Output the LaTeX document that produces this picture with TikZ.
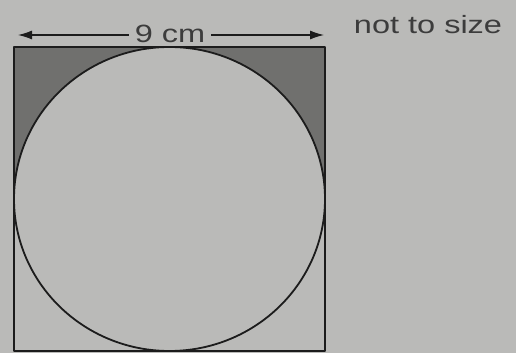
\documentclass[tikz,border=0pt]{standalone}
\usepackage{fontspec}
\setmainfont{Liberation Sans}
\newfontfamily\lblfont[FakeStretch=1.3]{Liberation Sans}
\usetikzlibrary{arrows.meta,positioning,calc}
\definecolor{sqpaper}{RGB}{186,186,184}
\definecolor{sqink}{RGB}{28,28,28}
\definecolor{sqshade}{RGB}{112,112,110}
\definecolor{sqtext}{RGB}{60,60,60}
\tikzset{
  edge/.style={draw=sqink, line width=1.8pt},
  corner/.style={fill=sqshade, even odd rule},
  dim/.style={-{Latex[length=14pt,width=9pt]}, draw=sqink, line width=1.1pt},
  lbl/.style={font=\lblfont\fontsize{25}{27}\selectfont, text=sqtext, inner sep=1pt},
  every picture/.append style={line join=round}
}
\begin{document}
\begin{tikzpicture}[x=1pt,y=1pt]
  \useasboundingbox[fill=sqpaper] (0,0) rectangle (516,353);
  % square and inscribed circle
  \coordinate (sw) at (14,2);
  \coordinate (ne) at (325,306);
  \coordinate (ctr) at (169.5,154);
  \begin{scope}
    \clip (sw |- ctr) rectangle (ne);
    \fill[corner] (sw) rectangle (ne) (ctr) ellipse [x radius=155.5, y radius=152];
  \end{scope}
  \draw[edge] (ctr) ellipse [x radius=155.5, y radius=152];
  \draw[edge] (sw) rectangle (ne);
  % dimension line
  \node[lbl, inner xsep=6pt] (len) at (170,319) {9 cm};
  \coordinate (lft) at (18,318);
  \coordinate (rgt) at (324,318);
  \draw[dim] (len.west |- lft) -- (lft);
  \draw[dim] (len.east |- rgt) -- (rgt);
  \node[lbl] (note) at (428,328) {not to size};
\end{tikzpicture}
\end{document}
